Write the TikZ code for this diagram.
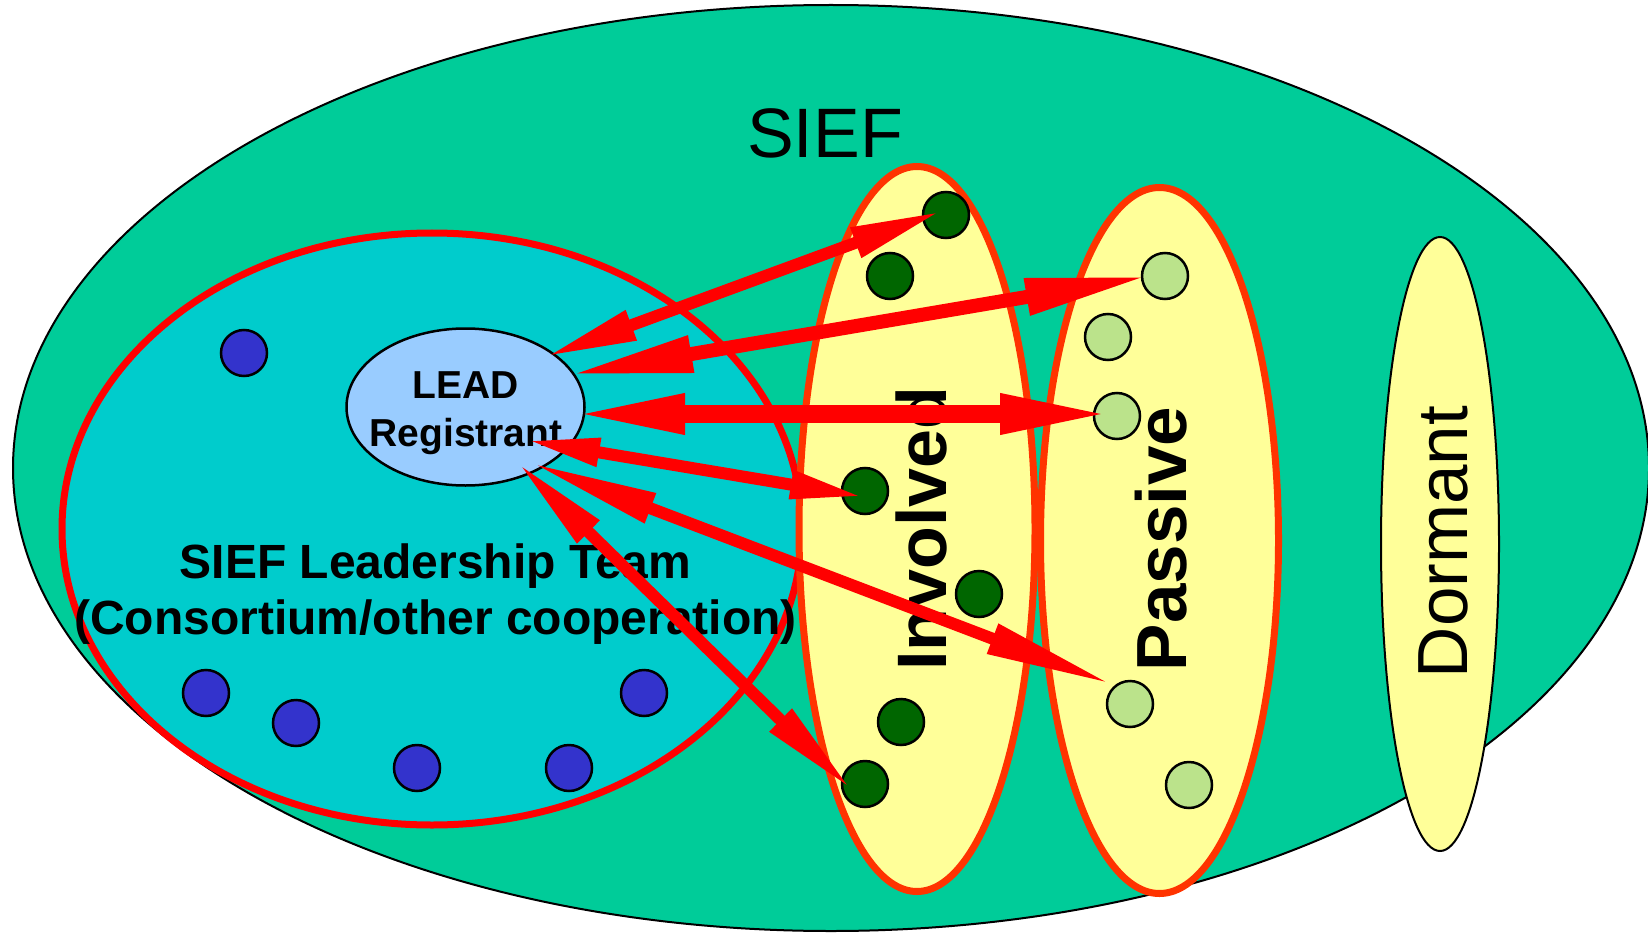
\documentclass[tikz,border=0pt]{standalone}
\usepackage{fontspec}
\setmainfont{Liberation Sans}
\usetikzlibrary{shapes.geometric,arrows.meta}
\definecolor{siefgreen}{RGB}{0,204,153}
\definecolor{teamcyan}{RGB}{0,204,204}
\definecolor{leadblue}{RGB}{153,204,255}
\definecolor{paleyellow}{RGB}{255,255,153}
\definecolor{orangered}{RGB}{255,51,0}
\definecolor{dotblue}{RGB}{51,51,204}
\definecolor{dotdark}{RGB}{0,102,0}
\definecolor{dotlight}{RGB}{187,227,139}
\begin{document}
\begin{tikzpicture}[x=1pt,y=-1pt,
  region/.style={ellipse, inner sep=0pt, outer sep=0pt},
  dot/.style={circle, draw=black, line width=2.5pt, minimum size=46pt, inner sep=0pt},
  bluedot/.style={dot, fill=dotblue},
  darkdot/.style={dot, fill=dotdark},
  lightdot/.style={dot, fill=dotlight},
  vlabel/.style={rotate=90, anchor=base, inner sep=0pt, font=\fontsize{70}{84}\selectfont},
  dbl/.style n args={3}{draw=red, line width=#1, {Triangle[length=#2,width=#3]}-{Triangle[length=#2,width=#3]}},
]
\useasboundingbox (0,0) rectangle (1648,933);
% regions
\node[region, fill=siefgreen, draw=black, line width=2pt, minimum width=1636pt, minimum height=926pt] (sief) at (831,468) {};
\node[region, fill=teamcyan, draw=red, line width=7pt, minimum width=740pt, minimum height=592pt] (team) at (432,529) {};
\node[region, fill=paleyellow, draw=orangered, line width=7pt, minimum width=236pt, minimum height=725pt] (inv) at (917,529) {};
\node[region, fill=paleyellow, draw=orangered, line width=7pt, minimum width=238pt, minimum height=706pt] (pas) at (1159.5,540.5) {};
\node[region, fill=paleyellow, draw=black, line width=2pt, minimum width=118pt, minimum height=614pt] (dor) at (1440,544) {};
\node[region, fill=leadblue, draw=black, line width=2.5pt, minimum width=238pt, minimum height=157pt] (lead) at (465.5,407) {};
% dots
\node[bluedot] (b1) at (244,353) {};
\node[bluedot] (b2) at (206,693) {};
\node[bluedot] (b3) at (296,723) {};
\node[bluedot] (b4) at (417,768) {};
\node[bluedot] (b5) at (569,768) {};
\node[bluedot] (b6) at (644,693) {};
\node[darkdot] (g1) at (946,215) {};
\node[darkdot] (g2) at (890,276) {};
\node[darkdot] (g3) at (865,491) {};
\node[darkdot] (g4) at (979,594) {};
\node[darkdot] (g5) at (901,722) {};
\node[darkdot] (g6) at (865,784) {};
\node[lightdot] (l1) at (1165,276) {};
\node[lightdot] (l2) at (1108,337) {};
\node[lightdot] (l3) at (1117,416) {};
\node[lightdot] (l4) at (1130,704) {};
\node[lightdot] (l5) at (1189,785) {};
% texts
\node[anchor=base, inner sep=0pt, font=\fontsize{70}{84}\selectfont] (sieftext) at (825,158) {SIEF};
\node[inner sep=0pt, align=center, font=\bfseries\fontsize{39}{48}\selectfont] (leadtext) at (466,413) {LEAD\\Registrant};
\node[inner sep=0pt, align=center, font=\bfseries\fontsize{48}{56}\selectfont] (teamtext) at (435.5,594) {SIEF Leadership Team\\(Consortium/other cooperation)};
\node[vlabel, font=\bfseries\fontsize{70}{84}\selectfont] (invtext) at (946,528.5) {Involved};
\node[vlabel, font=\bfseries\fontsize{71}{84}\selectfont] (pastext) at (1186,539) {Passive};
\node[vlabel, font=\fontsize{71}{84}\selectfont] (dortext) at (1467,542) {Dormant};
% arrow ends
\coordinate (s1) at (545,357); \coordinate (e1) at (942,211);
\coordinate (s2) at (568,375); \coordinate (e2) at (1150,276);
\coordinate (s3) at (570,414); \coordinate (e3) at (1115,414);
\coordinate (s4) at (525,440); \coordinate (e4) at (865,497);
\coordinate (s5) at (529,462); \coordinate (e5) at (1114,685);
\coordinate (s6) at (517,462); \coordinate (e6) at (852,790);
\draw[dbl={12pt}{92pt}{29pt}] (s1) -- (e1);
\draw[dbl={14pt}{125pt}{34pt}] (s2) -- (e2);
\draw[dbl={18pt}{115pt}{36pt}] (s3) -- (e3);
\draw[dbl={12pt}{75pt}{26pt}] (s4) -- (e4);
\draw[dbl={12pt}{130pt}{29pt}] (s5) -- (e5);
\draw[dbl={12pt}{100pt}{29pt}] (s6) -- (e6);
\end{tikzpicture}
\end{document}
